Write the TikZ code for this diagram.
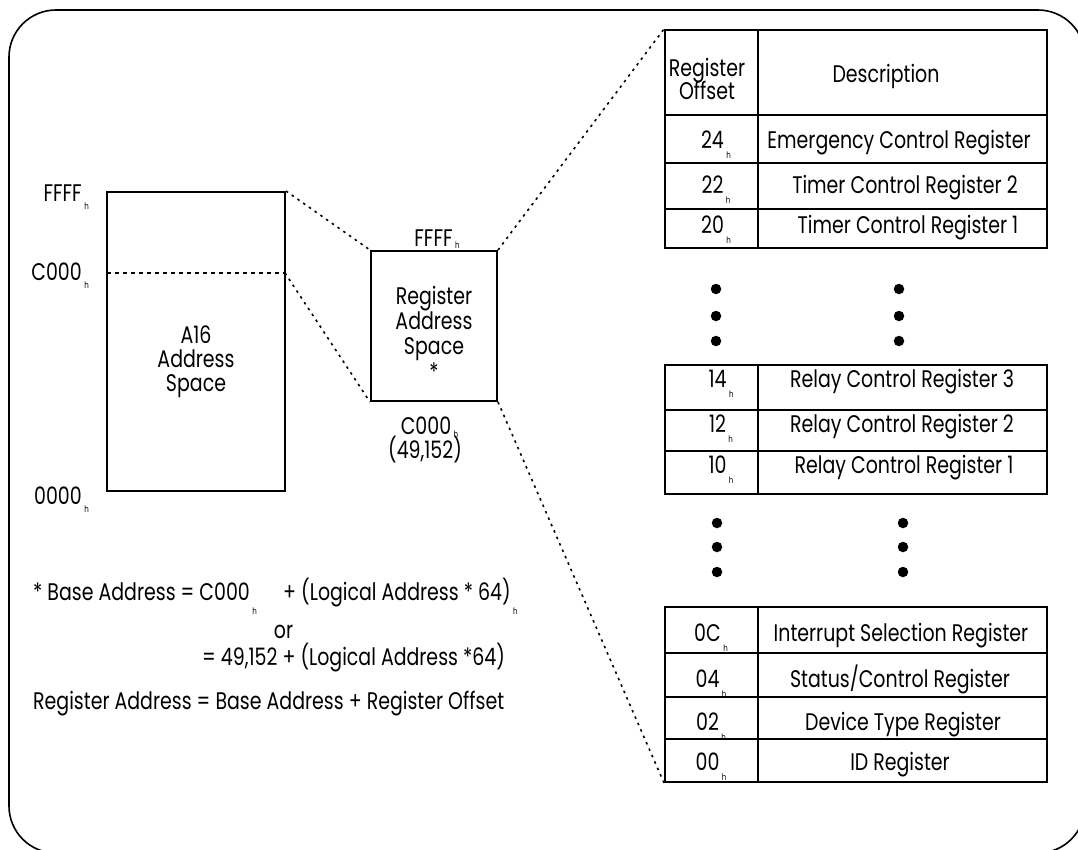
\documentclass[tikz,border=0pt]{standalone}
\usepackage{fontspec}
\setmainfont{Poppins}[FakeStretch=0.79]
\usetikzlibrary{calc}

% small hex suffix, hung below and right of the number (optional drop in pt)
\newcommand{\hx}[1][10]{\rlap{\kern2.5pt\raisebox{-#1pt}{\fontsize{9}{9}\selectfont h}}}

% one register row: name, top, bottom, offset, offset x, description, description x, baseline
\newcommand{\tabrow}[8]{%
  \node[cell, minimum width=93pt, minimum height={(#3-#2)*1pt}] (#1o) at (711.5,{(#2+#3)/2}) {};
  \node[cell, minimum width=289pt, minimum height={(#3-#2)*1pt}] (#1d) at (902.5,{(#2+#3)/2}) {};
  \node[txt, anchor=base] (#1n) at (#5,#8) {#4\hx};
  \node[txt, anchor=base] (#1t) at (#7,#8) {#6};
}

\begin{document}
\begin{tikzpicture}[x=1pt, y=-1pt,
  frame/.style={draw, line width=1.6pt, rounded corners=47pt},
  box/.style={draw, line width=2pt, inner sep=0pt},
  cell/.style={draw, line width=2pt, inner sep=0pt},
  zoomline/.style={line width=1.6pt, dash pattern=on 2.5pt off 4.5pt},
  divline/.style={line width=1.6pt, dash pattern=on 4pt off 4pt},
  txt/.style={font=\fontsize{24}{24.8}\selectfont, inner sep=0pt},
  dot/.style={circle, fill, inner sep=0pt, minimum size=10.5pt}]
\useasboundingbox (0,0) rectangle (1078,849);

% outer rounded frame, running off the right and bottom edges
\begin{scope}
  \clip (0,0) rectangle (1078,849);
  \draw[frame] (9,10) rectangle (1085,853);
\end{scope}

% A16 address space
\node[box, minimum width=178pt, minimum height=299pt] (a16) at (196,341.5) {};
\coordinate (cutL) at (107,273);
\coordinate (cutR) at (285,273);
\draw[divline] (cutL) -- (cutR);
\node[txt, align=center, anchor=north, font=\fontsize{24}{23.8}\selectfont] (a16t) at (196,326) {A16\\Address\\Space};
\node[txt, anchor=base east] (lffff) at (82,201) {FFFF\hx[8]};
\node[txt, anchor=base east] (lc000) at (82,280) {C000\hx[8]};
\node[txt, anchor=base east] (l0000) at (82,504) {0000\hx[8]};

% register address space
\node[box, minimum width=126pt, minimum height=150pt] (reg) at (434,326) {};
\node[txt, align=center, anchor=north, font=\fontsize{24}{25.2}\selectfont] (regt) at (434,286) {Register\\Address\\Space\\*};
\node[txt, anchor=base] (rffff) at (433.5,246) {FFFF\hx[2]};
\node[txt, anchor=base] (rc000) at (426,434.5) {C000\hx[3]};
\node[txt, anchor=base] (rdec) at (425,458.5) {(49,152)};

% register table
\node[cell, minimum width=93pt, minimum height=85pt] (h1) at (711.5,72.5) {};
\node[cell, minimum width=289pt, minimum height=85pt] (h2) at (902.5,72.5) {};
\node[txt, anchor=base] (h1a) at (707,76) {Register};
\node[txt, anchor=base] (h1b) at (707,99.5) {Offset};
\node[txt, anchor=base] (h2t) at (886,82) {Description};

\tabrow{r24}{115}{163}{24}{712.5}{Emergency Control Register}{899}{148}
\tabrow{r22}{163}{209}{22}{712.5}{Timer Control Register 2}{905}{193}
\tabrow{r20}{209}{248}{20}{712.5}{Timer Control Register 1}{908}{233}

\tabrow{r14}{365}{410}{14}{717.5}{Relay Control Register 3}{902}{387}
\tabrow{r12}{410}{451}{12}{717.5}{Relay Control Register 2}{902}{432}
\tabrow{r10}{451}{494}{10}{717.5}{Relay Control Register 1}{904}{473}

\tabrow{r0C}{607}{653}{0C}{707.5}{Interrupt Selection Register}{901}{641}
\tabrow{r04}{653}{697}{04}{707.5}{Status/Control Register}{900}{687}
\tabrow{r02}{697}{739}{02}{707.5}{Device Type Register}{903}{730}
\tabrow{r00}{739}{782}{00}{707.5}{ID Register}{900}{770}

% elided rows
\node[dot] (da1) at (716,289) {};
\node[dot] (da2) at (716,316) {};
\node[dot] (da3) at (716,341) {};
\node[dot] (db1) at (899,289) {};
\node[dot] (db2) at (899,316) {};
\node[dot] (db3) at (899,341) {};
\node[dot] (dc1) at (717,523) {};
\node[dot] (dc2) at (717,547) {};
\node[dot] (dc3) at (717,572) {};
\node[dot] (dd1) at (903,523) {};
\node[dot] (dd2) at (903,547) {};
\node[dot] (dd3) at (903,572) {};

% expansion lines
\draw[zoomline] (a16.north east) -- (reg.north west);
\draw[zoomline] (cutR) -- (reg.south west);
\draw[zoomline] (reg.north east) -- (h1.north west);
\draw[zoomline] (reg.south east) -- (r00o.south west);

% address formulas
\node[txt, anchor=base west] (f1a) at (33,600) {* Base Address = C000\hx[14]};
\node[txt, anchor=base west] (f1b) at (283,600) {+ (Logical Address * 64)\hx[14]};
\node[txt, anchor=base] (f2) at (283.5,638) {or};
\node[txt, anchor=base west] (f3) at (202,665) {= 49,152 + (Logical Address *64)};
\node[txt, anchor=base west] (f4) at (33,709) {Register Address = Base Address + Register Offset};
\end{tikzpicture}
\end{document}
